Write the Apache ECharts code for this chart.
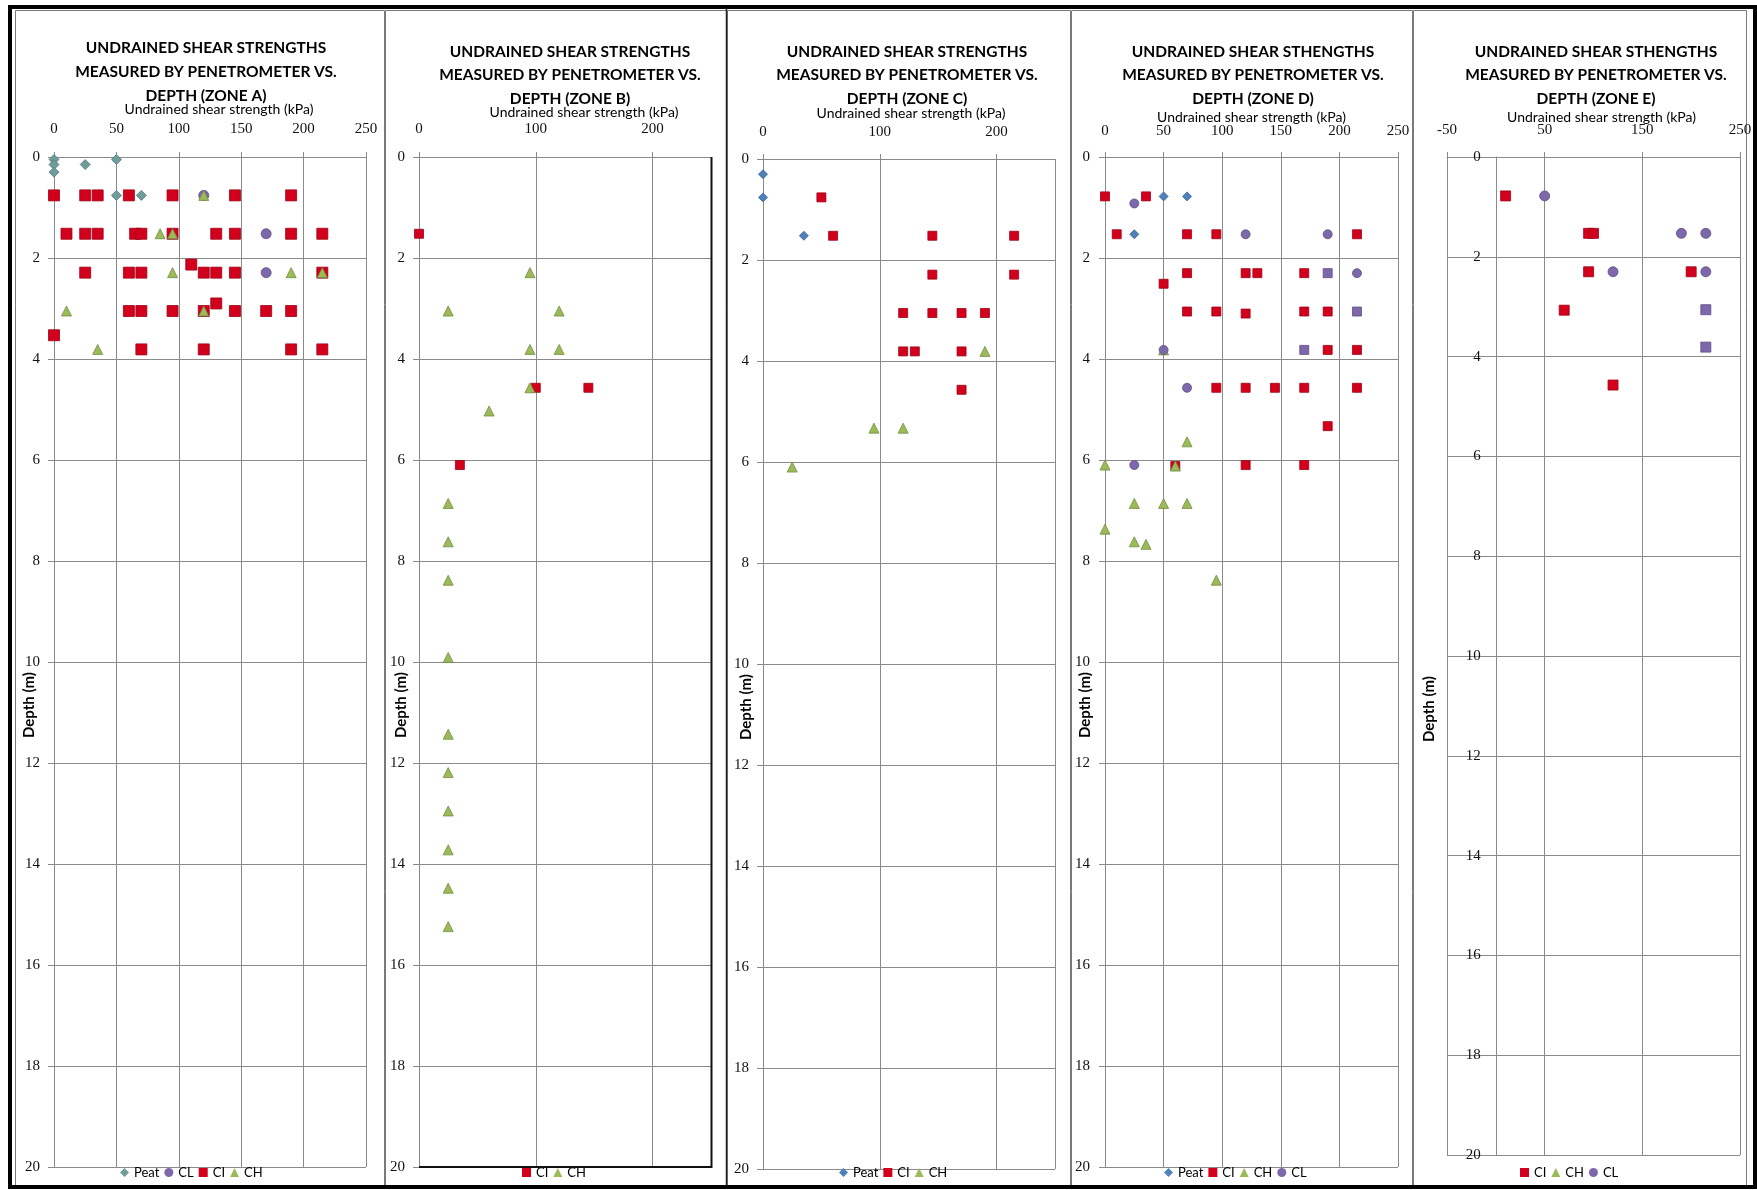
<!DOCTYPE html>
<html>
<head>
<meta charset="utf-8">
<script src="https://cdn.jsdelivr.net/npm/echarts@6/dist/echarts.min.js"></script>
<style>
  html, body { margin: 0; padding: 0; background: #ffffff; }
  #chart { width: 1757px; height: 1190px; }
</style>
</head>
<body>
<div id="chart"></div>
<script>
// Penetrometer readings: [undrained shear strength (kPa), depth (m)]
// Depths follow the 2.5 ft sampling interval (0.76 m steps).

// ---- Zone A ----
const zoneA_peat = [[0, 0.05], [0, 0.15], [0, 0.3], [25, 0.15], [50, 0.05], [50, 0.76], [70, 0.76]];
const zoneA_cl = [[120, 0.76], [170, 1.52], [170, 2.29]];
const zoneA_ci = [
  [0, 0.76], [25, 0.76], [35, 0.76], [60, 0.76], [95, 0.76], [145, 0.76], [190, 0.76],
  [10, 1.52], [25, 1.52], [35, 1.52], [65, 1.52], [70, 1.52], [95, 1.52], [130, 1.52], [145, 1.52], [190, 1.52], [215, 1.52],
  [110, 2.13],
  [25, 2.29], [60, 2.29], [70, 2.29], [120, 2.29], [130, 2.29], [145, 2.29], [215, 2.29],
  [130, 2.9],
  [60, 3.05], [70, 3.05], [95, 3.05], [120, 3.05], [145, 3.05], [170, 3.05], [190, 3.05],
  [0, 3.53],
  [70, 3.81], [120, 3.81], [190, 3.81], [215, 3.81]
];
const zoneA_ch = [[120, 0.76], [85, 1.52], [95, 1.52], [95, 2.29], [190, 2.29], [215, 2.29], [10, 3.05], [120, 3.05], [35, 3.81]];

// ---- Zone B ----
const zoneB_ci = [[0, 1.52], [100, 4.57], [145, 4.57], [35, 6.1]];
const zoneB_ch = [
  [95, 2.29], [25, 3.05], [120, 3.05], [95, 3.81], [120, 3.81], [95, 4.57], [60, 5.03],
  [25, 6.86], [25, 7.62], [25, 8.38], [25, 9.91], [25, 11.43], [25, 12.19], [25, 12.95],
  [25, 13.72], [25, 14.48], [25, 15.24]
];

// ---- Zone C ----
const zoneC_peat = [[0, 0.3], [0, 0.76], [35, 1.52]];
const zoneC_ci = [
  [50, 0.76], [60, 1.52], [145, 1.52], [215, 1.52], [145, 2.29], [215, 2.29],
  [120, 3.05], [145, 3.05], [170, 3.05], [190, 3.05],
  [120, 3.81], [130, 3.81], [170, 3.81], [170, 4.57]
];
const zoneC_ch = [[190, 3.81], [95, 5.33], [120, 5.33], [25, 6.1]];

// ---- Zone D ----
const zoneD_peat = [[50, 0.78], [70, 0.78], [25, 1.53]];
const zoneD_ci = [
  [0, 0.78], [35, 0.78], [10, 1.53], [70, 1.53], [95, 1.53], [215, 1.53],
  [70, 2.3], [120, 2.3], [130, 2.3], [170, 2.3], [50, 2.51],
  [70, 3.06], [95, 3.06], [120, 3.1], [170, 3.06], [190, 3.06],
  [190, 3.82], [215, 3.82],
  [95, 4.57], [120, 4.57], [145, 4.57], [170, 4.57], [215, 4.57],
  [190, 5.33], [60, 6.12], [120, 6.1], [170, 6.1]
];
const zoneD_ch = [[50, 3.82], [70, 5.64], [0, 6.1], [60, 6.12], [25, 6.86], [50, 6.86], [70, 6.86], [0, 7.37], [25, 7.62], [35, 7.67], [95, 8.38]];
const zoneD_cl = [[25, 0.92], [120, 1.53], [190, 1.53], [215, 2.3], [50, 3.82], [70, 4.57], [25, 6.1]];
const zoneD_clSquares = [[190, 2.3], [215, 3.06], [170, 3.82]];

// ---- Zone E ----
const zoneE_ci = [[10, 0.78], [95, 1.53], [100, 1.53], [95, 2.3], [200, 2.3], [70, 3.07], [120, 4.57]];
const zoneE_ch = [];
const zoneE_cl = [[50, 0.78], [190, 1.53], [215, 1.53], [120, 2.3], [215, 2.3]];
const zoneE_clSquares = [[215, 3.06], [215, 3.81]];

// ---- Axis ticks ----
const depthTicks = { min: 0, max: 20, interval: 2 };
const strengthTicksFine = { min: 0, max: 250, interval: 50 };
const strengthTicksWide = { min: 0, max: 250, interval: 100 };
const strengthTicksShifted = { min: -50, max: 250, interval: 100 };

const titleStrengths = 'UNDRAINED SHEAR STRENGTHS\nMEASURED BY PENETROMETER VS.\n';
const titleSthengths = 'UNDRAINED SHEAR STHENGTHS\nMEASURED BY PENETROMETER VS.\n';

// ---- Styling ----
const COLORS = {
  peatGrey: '#6f9d9b',
  peatBlue: '#4f81bd',
  cl: '#7c68aa',
  ci: '#d2001c',
  ch: '#9bbb59'
};
const GRID_GREY = '#8a8a8a';
const SERIF = '"Liberation Serif", "DejaVu Serif", serif';
const SANS = 'Lato, "Open Sans", sans-serif';

function squaresAsItems(arr) {
  return arr.map(p => ({ value: p, symbol: 'rect' }));
}

const zones = [
  {
    title: titleStrengths + 'DEPTH (ZONE A)', titleX: 206, titleTop: 36, titleLH: 24,
    grid: { left: 54, top: 157, width: 312, height: 1010 },
    xTicks: strengthTicksFine, showMax: true, labelMargin: 20, nameGap: 41, namePad: 18,
    yMargin: 14, yNameGap: 17, yNamePad: 86, yOffset: 0,
    legend: { left: 120, top: 1166 },
    series: [
      { name: 'Peat', data: zoneA_peat, symbol: 'diamond', color: COLORS.peatGrey, size: 10 },
      { name: 'CL', data: zoneA_cl, symbol: 'circle', color: COLORS.cl, size: 10 },
      { name: 'CI', data: zoneA_ci, symbol: 'rect', color: COLORS.ci, size: 11 },
      { name: 'CH', data: zoneA_ch, symbol: 'triangle', color: COLORS.ch, size: 10 }
    ]
  },
  {
    title: titleStrengths + 'DEPTH (ZONE B)', titleX: 570, titleTop: 40, titleLH: 23.5,
    grid: { left: 419, top: 157, width: 292, height: 1010 },
    xTicks: strengthTicksWide, showMax: false, labelMargin: 20, nameGap: 38, namePad: 38,
    yMargin: 14, yNameGap: 10, yNamePad: 86, yOffset: 0,
    legend: { left: 522, top: 1166 },
    series: [
      { name: 'CI', data: zoneB_ci, symbol: 'rect', color: COLORS.ci, size: 9 },
      { name: 'CH', data: zoneB_ch, symbol: 'triangle', color: COLORS.ch, size: 10 }
    ]
  },
  {
    title: titleStrengths + 'DEPTH (ZONE C)', titleX: 907, titleTop: 40, titleLH: 23.5,
    grid: { left: 763, top: 159, width: 292, height: 1010 },
    xTicks: strengthTicksWide, showMax: false, labelMargin: 19, nameGap: 39, namePad: 4,
    yMargin: 14, yNameGap: 9, yNamePad: 86, yOffset: 0,
    legend: { left: 839, top: 1166 },
    series: [
      { name: 'Peat', data: zoneC_peat, symbol: 'diamond', color: COLORS.peatBlue, size: 9 },
      { name: 'CI', data: zoneC_ci, symbol: 'rect', color: COLORS.ci, size: 9 },
      { name: 'CH', data: zoneC_ch, symbol: 'triangle', color: COLORS.ch, size: 10 }
    ]
  },
  {
    title: titleSthengths + 'DEPTH (ZONE D)', titleX: 1253, titleTop: 40, titleLH: 23.5,
    grid: { left: 1105, top: 157, width: 293, height: 1010 },
    xTicks: strengthTicksFine, showMax: true, labelMargin: 18, nameGap: 33, namePad: 0,
    yMargin: 15, yNameGap: 12, yNamePad: 86, yOffset: 0,
    legend: { left: 1164, top: 1166 },
    series: [
      { name: 'Peat', data: zoneD_peat, symbol: 'diamond', color: COLORS.peatBlue, size: 9 },
      { name: 'CI', data: zoneD_ci, symbol: 'rect', color: COLORS.ci, size: 9 },
      { name: 'CH', data: zoneD_ch, symbol: 'triangle', color: COLORS.ch, size: 10 },
      { name: 'CL', data: zoneD_cl.concat(squaresAsItems(zoneD_clSquares)), symbol: 'circle', color: COLORS.cl, size: 9 }
    ]
  },
  {
    // depth axis drawn through strength = 0 (one tick step of 50 kPa in from the left edge)
    title: titleSthengths + 'DEPTH (ZONE E)', titleX: 1596, titleTop: 40, titleLH: 23.5,
    grid: { left: 1447, top: 157, width: 293, height: 998 },
    xTicks: strengthTicksShifted, showMax: true, labelMargin: 19, nameGap: 33, namePad: 16,
    yMargin: 15, yNameGap: 59, yNamePad: 106, yOffset: -293 * 50 / 300,
    legend: { left: 1520, top: 1166 },
    series: [
      { name: 'CI', data: zoneE_ci, symbol: 'rect', color: COLORS.ci, size: 10 },
      { name: 'CH', data: zoneE_ch, symbol: 'triangle', color: COLORS.ch, size: 10 },
      { name: 'CL', data: zoneE_cl.concat(squaresAsItems(zoneE_clSquares)), symbol: 'circle', color: COLORS.cl, size: 10 }
    ]
  }
];

function darker(hex, f) {
  const n = parseInt(hex.slice(1), 16);
  const r = Math.round(((n >> 16) & 255) * f);
  const g = Math.round(((n >> 8) & 255) * f);
  const b = Math.round((n & 255) * f);
  return 'rgb(' + r + ',' + g + ',' + b + ')';
}

const option = {
  backgroundColor: '#ffffff',
  animation: false,
  title: [],
  legend: [],
  grid: [],
  xAxis: [],
  yAxis: [],
  series: [],
  graphic: []
};

zones.forEach((z, i) => {
  option.title.push({
    text: z.title,
    left: z.titleX,
    top: z.titleTop,
    textAlign: 'center',
    padding: 0,
    textStyle: { fontFamily: SANS, fontWeight: 'bold', fontSize: 15.5, lineHeight: z.titleLH, color: '#000' }
  });

  option.grid.push(Object.assign({ containLabel: false, outerBoundsMode: 'none' }, z.grid));

  option.xAxis.push({
    gridIndex: i,
    type: 'value',
    position: 'top',
    min: z.xTicks.min, max: z.xTicks.max, interval: z.xTicks.interval,
    name: 'Undrained shear strength (kPa)',
    nameLocation: 'middle',
    nameGap: z.nameGap,
    nameMoveOverlap: false,
    nameTextStyle: { fontFamily: SANS, fontSize: 14, color: '#000', padding: [0, 0, 0, z.namePad] },
    axisLine: { show: true, onZero: false, lineStyle: { color: GRID_GREY, width: 1 } },
    axisTick: { show: true, length: 5, lineStyle: { color: GRID_GREY } },
    axisLabel: { margin: z.labelMargin, fontFamily: SERIF, fontSize: 15, color: '#111', showMaxLabel: z.showMax, showMinLabel: true },
    splitLine: { show: true, lineStyle: { color: GRID_GREY, width: 1 } }
  });

  option.yAxis.push({
    gridIndex: i,
    type: 'value',
    position: 'left',
    offset: z.yOffset,
    inverse: true,
    min: depthTicks.min, max: depthTicks.max, interval: depthTicks.interval,
    name: 'Depth (m)',
    nameLocation: 'middle',
    nameRotate: 90,
    nameGap: z.yNameGap,
    nameMoveOverlap: false,
    nameTextStyle: { fontFamily: SANS, fontWeight: 'bold', fontSize: 15, color: '#000', padding: [0, z.yNamePad, 0, 0] },
    axisLine: { show: true, onZero: false, lineStyle: { color: GRID_GREY, width: 1 } },
    axisTick: { show: true, length: 6, lineStyle: { color: GRID_GREY } },
    axisLabel: { margin: z.yMargin, fontFamily: SERIF, fontSize: 15, color: '#111' },
    splitLine: { show: true, lineStyle: { color: GRID_GREY, width: 1 } }
  });

  option.legend.push({
    left: z.legend.left,
    top: z.legend.top,
    orient: 'horizontal',
    padding: 0,
    itemWidth: 9,
    itemHeight: 9,
    itemGap: 5,
    selectedMode: false,
    textStyle: { fontFamily: SANS, fontSize: 13, color: '#000' },
    data: z.series.map(s => ({ name: s.name, icon: s.symbol, itemStyle: { color: s.color, borderWidth: 0 } }))
  });

  z.series.forEach(s => {
    option.series.push({
      type: 'scatter',
      name: s.name,
      xAxisIndex: i,
      yAxisIndex: i,
      data: s.data,
      symbol: s.symbol,
      symbolSize: s.size,
      silent: true,
      itemStyle: { color: s.color, borderColor: darker(s.color, 0.75), borderWidth: 0.8, opacity: 1 }
    });
  });
});

// Panel frames and page border
const panelEdges = [15, 385, 727, 1071, 1413, 1747];
for (let k = 0; k < panelEdges.length - 1; k++) {
  option.graphic.push({
    type: 'rect', silent: true, z: 0,
    shape: { x: panelEdges[k] + 0.5, y: 10.5, width: panelEdges[k + 1] - panelEdges[k] - 1, height: 1175 },
    style: { fill: 'none', stroke: '#7a7a7a', lineWidth: 1 }
  });
}
option.graphic.push({
  type: 'line', silent: true, z: 100,
  shape: { x1: 726.5, y1: 9, x2: 726.5, y2: 1186 },
  style: { stroke: '#222', lineWidth: 1.5 }
});
// Darker plot edge on zone B
option.graphic.push({
  type: 'polyline', silent: true, z: 100,
  shape: { points: [[711.5, 157], [711.5, 1167], [419, 1167]] },
  style: { stroke: '#111', lineWidth: 2, fill: 'none' }
});
option.graphic.push({
  type: 'rect', silent: true, z: 100,
  shape: { x: 10, y: 7, width: 1745, height: 1180 },
  style: { fill: 'none', stroke: '#000', lineWidth: 4 }
});

const chart = echarts.init(document.getElementById('chart'), null, { renderer: 'canvas' });
chart.setOption(option);
</script>
</body>
</html>
